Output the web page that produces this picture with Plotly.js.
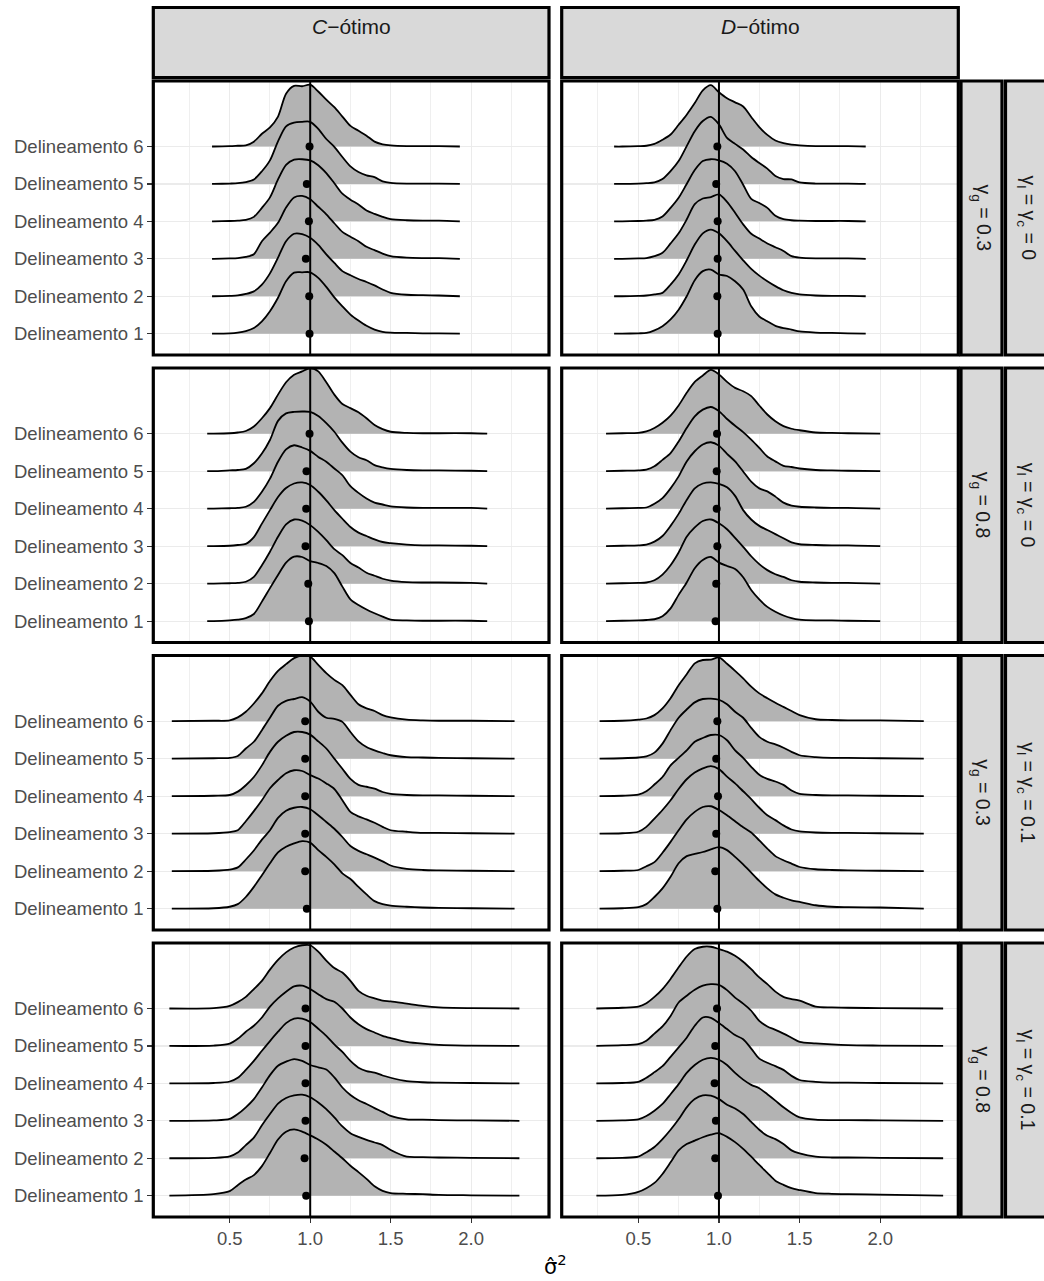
<!DOCTYPE html>
<html><head><meta charset="utf-8">
<script src="https://cdn.plot.ly/plotly-3.0.1.min.js"></script>
<style>html,body{margin:0;padding:0;background:#fff}#chart{width:1044px;height:1281px}</style>
</head><body><div id="chart"></div>
<script>
// ---------------- data ----------------
const designLabels = ['Delineamento 1','Delineamento 2','Delineamento 3','Delineamento 4','Delineamento 5','Delineamento 6'];
const criterionLabels = ['<i>C</i>\u2212ótimo', '<i>D</i>\u2212ótimo'];
const gammaGLabels = ['γ<sub>g</sub> = 0.3', 'γ<sub>g</sub> = 0.8', 'γ<sub>g</sub> = 0.3', 'γ<sub>g</sub> = 0.8'];
const gammaLCLabels = ['γ<sub>l</sub> = γ<sub>c</sub> = 0', 'γ<sub>l</sub> = γ<sub>c</sub> = 0', 'γ<sub>l</sub> = γ<sub>c</sub> = 0.1', 'γ<sub>l</sub> = γ<sub>c</sub> = 0.1'];
const xTickVals = [0.5, 1.0, 1.5, 2.0];
const xTickText = ['0.5', '1.0', '1.5', '2.0'];
const xMinorVals = [0.25, 0.75, 1.25, 1.75, 2.25];
const xAxisTitle = 'σ\u0302<sup>2</sup>';

// density evaluation points (sigma^2 hat)
const densityX = [0.4,0.5,0.55,0.6,0.65,0.7,0.75,0.8,0.85,0.9,0.95,1.0,1.05,1.1,1.15,1.2,1.25,1.3,1.35,1.4,1.45,1.5,1.6,1.7,1.8,2.0];

// ridge support (min, max of estimates) per row: C-otimo and D-otimo
const supportC = [[0.39,1.93],[0.36,2.10],[0.14,2.27],[0.125,2.30]];
const supportD = [[0.35,1.91],[0.30,2.00],[0.26,2.27],[0.24,2.39]];

// scaled density heights, rows = Delineamento 1..6
const densC_g03_lc0 = [
 [0,0.01,0.03,0.07,0.15,0.33,0.6,0.96,1.4,1.63,1.64,1.64,1.49,1.25,0.97,0.73,0.51,0.35,0.21,0.11,0.05,0.03,0.02,0.01,0.01,0],
 [0,0.01,0.02,0.06,0.13,0.31,0.61,1.03,1.47,1.67,1.66,1.56,1.37,1.12,0.89,0.67,0.56,0.46,0.38,0.29,0.18,0.09,0.04,0.03,0.02,0],
 [0,0.01,0.02,0.05,0.12,0.47,0.7,0.96,1.37,1.64,1.68,1.59,1.39,1.19,0.95,0.72,0.59,0.47,0.32,0.23,0.14,0.07,0.03,0.02,0.02,0],
 [0,0.01,0.02,0.04,0.12,0.36,0.64,1.12,1.51,1.65,1.66,1.63,1.5,1.29,1.02,0.74,0.58,0.45,0.29,0.2,0.12,0.06,0.03,0.02,0.02,0],
 [0,0.01,0.02,0.05,0.12,0.34,0.63,1.14,1.54,1.64,1.66,1.66,1.47,1.2,0.99,0.72,0.47,0.32,0.23,0.18,0.07,0.03,0.01,0.01,0.01,0],
 [0,0.01,0.02,0.03,0.13,0.34,0.51,0.8,1.41,1.62,1.61,1.65,1.47,1.25,1.05,0.8,0.55,0.42,0.29,0.13,0.06,0.03,0.01,0.01,0.01,0]
];
const densD_g03_lc0 = [
 [0,0.01,0.02,0.09,0.2,0.38,0.64,1.0,1.43,1.67,1.71,1.58,1.54,1.4,1.18,0.73,0.46,0.33,0.21,0.15,0.11,0.06,0.03,0.02,0.01,0],
 [0,0.01,0.02,0.05,0.09,0.31,0.58,0.96,1.38,1.68,1.78,1.68,1.47,1.21,0.96,0.73,0.55,0.4,0.27,0.16,0.09,0.05,0.02,0.01,0.01,0],
 [0,0.01,0.02,0.07,0.16,0.41,0.68,1.05,1.46,1.61,1.65,1.72,1.52,1.23,0.92,0.67,0.54,0.41,0.31,0.21,0.07,0.03,0.01,0.01,0.01,0],
 [0,0.01,0.02,0.04,0.13,0.36,0.63,1.0,1.37,1.61,1.66,1.63,1.54,1.34,0.98,0.6,0.49,0.36,0.15,0.06,0.03,0.02,0.01,0.01,0.01,0],
 [0,0.01,0.02,0.04,0.13,0.34,0.61,1.01,1.41,1.68,1.79,1.59,1.23,1.07,0.92,0.72,0.56,0.41,0.21,0.13,0.12,0.04,0.01,0.01,0.01,0],
 [0,0.01,0.02,0.07,0.18,0.32,0.58,0.85,1.16,1.5,1.64,1.45,1.29,1.18,1.07,0.79,0.52,0.31,0.16,0.09,0.05,0.03,0.01,0.01,0.01,0]
];
const densC_g08_lc0 = [
 [0,0.02,0.04,0.08,0.19,0.52,0.88,1.23,1.56,1.72,1.71,1.6,1.55,1.47,1.28,0.92,0.58,0.43,0.31,0.21,0.12,0.04,0.02,0.01,0.01,0.01],
 [0,0.01,0.02,0.05,0.18,0.49,0.85,1.25,1.58,1.71,1.68,1.56,1.38,1.16,0.92,0.76,0.55,0.43,0.29,0.21,0.13,0.08,0.04,0.03,0.03,0.02],
 [0,0.01,0.03,0.06,0.24,0.6,0.96,1.31,1.55,1.67,1.7,1.63,1.45,1.22,0.96,0.73,0.51,0.36,0.27,0.18,0.11,0.08,0.04,0.02,0.02,0.01],
 [0,0.01,0.02,0.05,0.18,0.45,0.8,1.25,1.58,1.69,1.63,1.54,1.38,1.25,1.07,0.89,0.6,0.42,0.27,0.16,0.11,0.06,0.03,0.02,0.02,0.02],
 [0,0.02,0.03,0.06,0.21,0.47,0.83,1.34,1.54,1.58,1.59,1.58,1.47,1.28,1.05,0.76,0.52,0.37,0.29,0.16,0.1,0.06,0.03,0.02,0.02,0.01],
 [0,0.01,0.03,0.07,0.19,0.41,0.68,1.04,1.37,1.57,1.66,1.75,1.66,1.37,1.04,0.79,0.68,0.57,0.41,0.23,0.12,0.05,0.02,0.01,0.01,0.01]
];
const densD_g08_lc0 = [
 [0.01,0.02,0.03,0.05,0.13,0.34,0.7,1.03,1.41,1.63,1.71,1.56,1.47,1.39,1.17,0.83,0.58,0.38,0.25,0.15,0.08,0.04,0.02,0.02,0.01,0.01],
 [0.01,0.02,0.03,0.09,0.24,0.49,0.83,1.25,1.5,1.67,1.71,1.61,1.45,1.22,0.98,0.73,0.52,0.36,0.25,0.18,0.09,0.05,0.03,0.02,0.02,0.01],
 [0.01,0.02,0.04,0.12,0.27,0.54,0.86,1.23,1.54,1.67,1.7,1.66,1.57,1.34,0.96,0.71,0.54,0.43,0.32,0.21,0.1,0.05,0.03,0.02,0.02,0.01],
 [0.01,0.02,0.03,0.13,0.28,0.54,0.86,1.26,1.53,1.71,1.77,1.68,1.46,1.26,0.99,0.72,0.54,0.46,0.32,0.16,0.08,0.05,0.03,0.02,0.02,0.01],
 [0.01,0.02,0.04,0.13,0.3,0.48,0.79,1.15,1.46,1.64,1.71,1.6,1.39,1.21,1.04,0.84,0.62,0.39,0.26,0.14,0.11,0.07,0.03,0.02,0.01,0.01],
 [0.01,0.02,0.06,0.15,0.29,0.48,0.75,1.09,1.38,1.55,1.7,1.58,1.38,1.22,1.13,1.0,0.75,0.51,0.33,0.2,0.13,0.09,0.03,0.02,0.01,0]
];
const densC_g03_lc01 = [
 [0.01,0.05,0.12,0.31,0.58,0.89,1.21,1.5,1.65,1.74,1.8,1.76,1.56,1.38,1.18,0.94,0.79,0.58,0.38,0.2,0.12,0.08,0.05,0.03,0.02,0.01],
 [0.01,0.04,0.1,0.31,0.55,0.84,1.09,1.42,1.61,1.69,1.71,1.65,1.49,1.31,1.13,0.91,0.67,0.54,0.45,0.36,0.26,0.15,0.06,0.03,0.02,0.01],
 [0.01,0.04,0.09,0.33,0.6,0.89,1.21,1.43,1.61,1.69,1.67,1.56,1.47,1.34,1.19,0.89,0.58,0.46,0.38,0.29,0.18,0.09,0.05,0.02,0.02,0.01],
 [0.01,0.03,0.12,0.29,0.51,0.82,1.18,1.45,1.61,1.71,1.71,1.64,1.46,1.27,1.0,0.73,0.46,0.3,0.25,0.2,0.11,0.06,0.03,0.02,0.02,0.01],
 [0.01,0.02,0.07,0.27,0.45,0.76,1.09,1.41,1.54,1.59,1.64,1.52,1.25,1.09,1.06,0.98,0.71,0.46,0.31,0.22,0.15,0.09,0.04,0.03,0.02,0.01],
 [0.01,0.02,0.1,0.25,0.47,0.74,1.07,1.34,1.52,1.68,1.75,1.72,1.5,1.28,1.1,0.96,0.7,0.45,0.34,0.27,0.16,0.1,0.04,0.02,0.01,0.01]
];
const densD_g03_lc01 = [
 [0.01,0.04,0.12,0.31,0.54,0.85,1.21,1.4,1.46,1.51,1.58,1.64,1.56,1.38,1.18,0.96,0.74,0.54,0.38,0.29,0.22,0.18,0.09,0.05,0.04,0.03],
 [0.01,0.03,0.13,0.24,0.49,0.78,1.09,1.38,1.58,1.71,1.73,1.63,1.49,1.33,1.17,1.03,0.82,0.6,0.4,0.29,0.2,0.11,0.05,0.03,0.02,0.01],
 [0.01,0.05,0.18,0.4,0.63,0.89,1.19,1.45,1.63,1.74,1.8,1.72,1.52,1.34,1.13,0.92,0.69,0.49,0.36,0.22,0.11,0.06,0.03,0.02,0.02,0.01],
 [0.01,0.04,0.13,0.31,0.51,0.82,1.02,1.22,1.45,1.55,1.63,1.63,1.49,1.22,1.02,0.78,0.57,0.46,0.39,0.3,0.15,0.06,0.03,0.02,0.02,0.01],
 [0.01,0.03,0.06,0.16,0.4,0.76,1.09,1.31,1.5,1.59,1.6,1.57,1.45,1.25,1.09,0.82,0.58,0.45,0.38,0.29,0.18,0.09,0.04,0.02,0.02,0.01],
 [0.01,0.04,0.07,0.16,0.34,0.61,0.96,1.25,1.54,1.63,1.64,1.7,1.53,1.34,1.14,0.92,0.74,0.61,0.49,0.38,0.27,0.16,0.05,0.03,0.02,0.02]
];
const densC_g08_lc01 = [
 [0.04,0.12,0.28,0.43,0.55,0.79,1.14,1.5,1.71,1.77,1.71,1.61,1.5,1.36,1.18,1.0,0.8,0.63,0.45,0.25,0.13,0.07,0.05,0.04,0.02,0.01],
 [0.01,0.05,0.15,0.35,0.55,0.88,1.18,1.46,1.61,1.68,1.7,1.63,1.49,1.31,1.09,0.85,0.67,0.57,0.49,0.42,0.35,0.22,0.04,0.03,0.02,0.01],
 [0.01,0.05,0.18,0.36,0.58,0.89,1.22,1.47,1.58,1.65,1.6,1.49,1.43,1.37,1.16,0.89,0.69,0.55,0.45,0.34,0.24,0.13,0.04,0.03,0.02,0.01],
 [0.01,0.05,0.15,0.36,0.6,0.87,1.13,1.38,1.61,1.73,1.73,1.64,1.46,1.27,1.04,0.84,0.6,0.42,0.33,0.29,0.21,0.15,0.06,0.03,0.02,0.01],
 [0.01,0.06,0.19,0.38,0.54,0.76,1.05,1.27,1.45,1.59,1.61,1.52,1.38,1.25,1.18,1.0,0.76,0.58,0.45,0.36,0.27,0.21,0.11,0.06,0.03,0.01],
 [0.01,0.07,0.17,0.31,0.52,0.74,1.04,1.3,1.5,1.63,1.69,1.69,1.52,1.28,1.08,0.96,0.74,0.47,0.34,0.27,0.21,0.19,0.13,0.07,0.03,0.01]
];
const densD_g08_lc01 = [
 [0.02,0.1,0.2,0.34,0.58,0.89,1.21,1.38,1.47,1.56,1.63,1.67,1.57,1.43,1.25,1.04,0.82,0.61,0.4,0.29,0.2,0.15,0.07,0.05,0.04,0.03],
 [0.01,0.04,0.16,0.3,0.51,0.76,1.04,1.36,1.58,1.68,1.67,1.58,1.43,1.33,1.18,0.97,0.76,0.6,0.51,0.38,0.21,0.13,0.04,0.02,0.02,0.01],
 [0.01,0.04,0.13,0.27,0.45,0.71,0.98,1.28,1.49,1.63,1.68,1.63,1.49,1.28,1.1,0.96,0.87,0.71,0.54,0.36,0.21,0.09,0.03,0.02,0.02,0.01],
 [0.01,0.04,0.15,0.3,0.46,0.71,0.96,1.22,1.54,1.76,1.75,1.61,1.45,1.29,1.18,0.93,0.66,0.55,0.46,0.36,0.2,0.09,0.04,0.02,0.02,0.01],
 [0.02,0.05,0.14,0.33,0.52,0.8,1.16,1.34,1.5,1.61,1.65,1.63,1.49,1.29,1.13,0.94,0.67,0.52,0.43,0.33,0.22,0.11,0.07,0.04,0.02,0.01],
 [0.02,0.05,0.14,0.31,0.52,0.79,1.1,1.39,1.59,1.65,1.65,1.59,1.52,1.41,1.25,1.05,0.83,0.65,0.45,0.31,0.25,0.21,0.05,0.03,0.02,0.01]
];

// mean estimate per Delineamento 1..6 (black points)
const meanC_g03_lc0  = [0.996,0.994,0.973,0.992,0.979,0.996];
const meanD_g03_lc0  = [0.992,0.990,0.992,0.992,0.983,0.990];
const meanC_g08_lc0  = [0.992,0.988,0.971,0.975,0.977,0.996];
const meanD_g08_lc0  = [0.979,0.983,0.990,0.986,0.986,0.988];
const meanC_g03_lc01 = [0.979,0.969,0.969,0.969,0.969,0.969];
const meanD_g03_lc01 = [0.990,0.977,0.983,0.994,0.983,0.990];
const meanC_g08_lc01 = [0.975,0.965,0.971,0.971,0.971,0.971];
const meanD_g08_lc01 = [0.994,0.977,0.981,0.973,0.977,0.988];
const trueValue = 1.0;

// ---------------- layout geometry ----------------
const W = 1044, H = 1281;
const colPx = [[153.3, 549.0], [561.7, 958.3]];
const rowPx = [[81, 355], [368, 642.5], [655.5, 930], [943, 1217]];
const topStripPx = [7.5, 77.7];
const rightStripPx = [[961, 1002], [1005.5, 1046]];
const FONT = 'Liberation Sans, Arial, Helvetica, sans-serif';

const panelDens = [
  [densC_g03_lc0, densD_g03_lc0],
  [densC_g08_lc0, densD_g08_lc0],
  [densC_g03_lc01, densD_g03_lc01],
  [densC_g08_lc01, densD_g08_lc01]
];
const panelMean = [
  [meanC_g03_lc0, meanD_g03_lc0],
  [meanC_g08_lc0, meanD_g08_lc0],
  [meanC_g03_lc01, meanD_g03_lc01],
  [meanC_g08_lc01, meanD_g08_lc01]
];
const panelSupport = [supportC, supportD];

const px2x = p => p / W;
const px2y = p => 1 - p / H;

const traces = [];
const layout = {
  width: W, height: H,
  margin: {l: 0, r: 0, t: 0, b: 0},
  paper_bgcolor: '#fff', plot_bgcolor: '#fff',
  showlegend: false,
  font: {family: FONT, color: '#4d4d4d'},
  shapes: [], annotations: []
};

for (let r = 0; r < 4; r++) {
  for (let c = 0; c < 2; c++) {
    const n = r * 2 + c + 1;
    const xa = n === 1 ? 'x' : 'x' + n;
    const ya = n === 1 ? 'y' : 'y' + n;
    const dens = panelDens[r][c];
    const [lo, hi] = panelSupport[c][r];

    for (let k = 5; k >= 0; k--) {
      const xs = [lo], ys = [k + 1];
      densityX.forEach((xv, i) => {
        if (xv > lo + 0.005 && xv < hi - 0.005) { xs.push(xv); ys.push(k + 1 + dens[k][i]); }
      });
      xs.push(hi); ys.push(k + 1);
      traces.push({
        type: 'scatter', mode: 'lines', x: xs, y: ys, xaxis: xa, yaxis: ya,
        fill: 'toself', fillcolor: '#b3b3b3',
        line: {color: '#000', width: 1.8, shape: 'spline', smoothing: 0.8},
        hoverinfo: 'skip', showlegend: false
      });
    }
    traces.push({
      type: 'scatter', mode: 'markers', x: panelMean[r][c], y: [1,2,3,4,5,6],
      xaxis: xa, yaxis: ya, marker: {color: '#000', size: 8}, hoverinfo: 'skip', showlegend: false
    });

    const xkey = n === 1 ? 'xaxis' : 'xaxis' + n;
    const ykey = n === 1 ? 'yaxis' : 'yaxis' + n;
    const bottom = r === 3, left = c === 0;
    layout[xkey] = {
      domain: [px2x(colPx[c][0]), px2x(colPx[c][1])],
      range: [0.025, 2.484], anchor: ya, fixedrange: true,
      tickmode: 'array', tickvals: xTickVals, ticktext: xTickText,
      showticklabels: bottom, ticks: bottom ? 'outside' : '', ticklen: 5, tickwidth: 1.2, tickcolor: '#333',
      tickfont: {family: FONT, size: 18.5, color: '#4d4d4d'},
      showgrid: true, gridcolor: '#ebebeb', gridwidth: 1.2,
      minor: {tickmode: 'array', tickvals: xMinorVals, showgrid: true, gridcolor: '#ebebeb', gridwidth: 0.8, ticks: ''},
      zeroline: false, showline: false
    };
    layout[ykey] = {
      domain: [px2y(rowPx[r][1]), px2y(rowPx[r][0])],
      range: [0.43, 7.75], anchor: xa, fixedrange: true,
      tickmode: 'array', tickvals: [1,2,3,4,5,6], ticktext: designLabels,
      showticklabels: left, ticks: left ? 'outside' : '', ticklen: 5, tickwidth: 1.2, tickcolor: '#333',
      tickfont: {family: FONT, size: 18.5, color: '#4d4d4d'},
      showgrid: true, gridcolor: '#ebebeb', gridwidth: 1.2,
      zeroline: false, showline: false
    };

    layout.shapes.push({type: 'line', xref: xa, yref: ya + ' domain', x0: trueValue, x1: trueValue, y0: 0, y1: 1,
      line: {color: '#000', width: 2}, layer: 'above'});
    layout.shapes.push({type: 'rect', xref: 'paper', yref: 'paper',
      x0: px2x(colPx[c][0]), x1: px2x(colPx[c][1]), y0: px2y(rowPx[r][1]), y1: px2y(rowPx[r][0]),
      line: {color: '#000', width: 3.2}, fillcolor: 'rgba(0,0,0,0)', layer: 'above'});
  }
  for (let s = 0; s < 2; s++) {
    layout.shapes.push({type: 'rect', xref: 'paper', yref: 'paper',
      x0: px2x(rightStripPx[s][0]), x1: px2x(rightStripPx[s][1]), y0: px2y(rowPx[r][1]), y1: px2y(rowPx[r][0]),
      line: {color: '#000', width: 3.2}, fillcolor: '#d9d9d9', layer: 'below'});
    layout.annotations.push({xref: 'paper', yref: 'paper',
      x: px2x(s === 0 ? 981.5 : 1026.5),
      y: px2y((rowPx[r][0] + rowPx[r][1]) / 2),
      text: s === 0 ? gammaGLabels[r] : gammaLCLabels[r], textangle: 90, showarrow: false,
      xanchor: 'center', yanchor: 'middle', font: {family: FONT, size: 19.5, color: '#1a1a1a'}});
  }
}
for (let c = 0; c < 2; c++) {
  layout.shapes.push({type: 'rect', xref: 'paper', yref: 'paper',
    x0: px2x(colPx[c][0]), x1: px2x(colPx[c][1]), y0: px2y(topStripPx[1]), y1: px2y(topStripPx[0]),
    line: {color: '#000', width: 3.2}, fillcolor: '#d9d9d9', layer: 'below'});
  layout.annotations.push({xref: 'paper', yref: 'paper',
    x: px2x((colPx[c][0] + colPx[c][1]) / 2), y: px2y(26),
    text: criterionLabels[c], showarrow: false, xanchor: 'center', yanchor: 'middle',
    font: {family: FONT, size: 21, color: '#1a1a1a'}});
}
// x axis title: sigma-hat squared
layout.annotations.push({xref: 'paper', yref: 'paper', x: px2x(555), y: px2y(1265),
  text: xAxisTitle, showarrow: false, xanchor: 'center', yanchor: 'middle',
  font: {family: 'DejaVu Sans, sans-serif', size: 21, color: '#000'}});

Plotly.newPlot('chart', traces, layout, {staticPlot: true, displayModeBar: false});
</script>
</body></html>
